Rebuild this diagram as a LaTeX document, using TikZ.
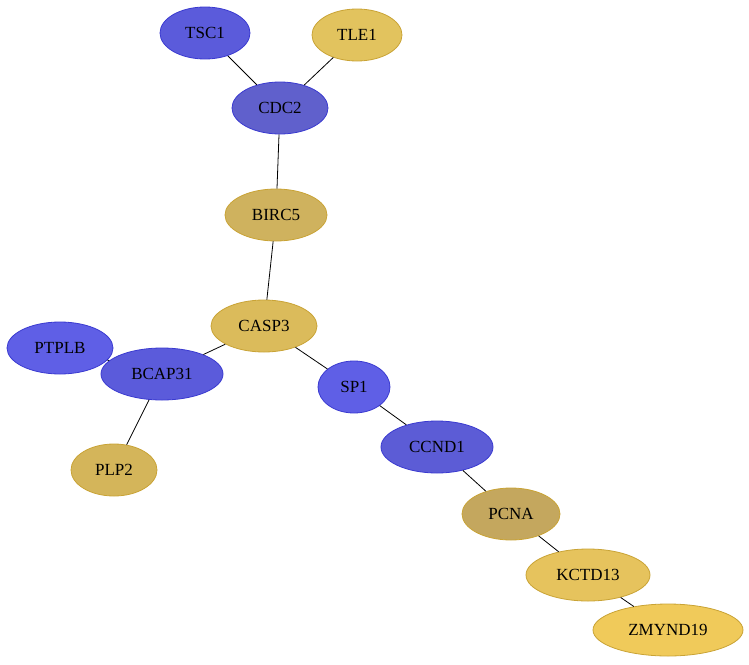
\documentclass[tikz,border=0pt]{standalone}
\usepackage{fontspec}
\setmainfont{Liberation Serif}
\usepackage{tikz}
\usetikzlibrary{shapes.geometric}

\definecolor{blueA}{HTML}{5B5BDB}
\definecolor{blueB}{HTML}{5F5FE6}
\definecolor{blueC}{HTML}{5C5CD6}
\definecolor{blueD}{HTML}{6060CC}
\definecolor{blueline}{HTML}{3A3AD0}
\definecolor{goldA}{HTML}{E2C35E}
\definecolor{goldB}{HTML}{CFB25E}
\definecolor{goldC}{HTML}{DBBB5B}
\definecolor{goldD}{HTML}{D4B55A}
\definecolor{goldE}{HTML}{C4A75E}
\definecolor{goldF}{HTML}{E6C35D}
\definecolor{goldG}{HTML}{F0CA5A}
\definecolor{goldline}{HTML}{C9A335}

\tikzset{
  gene/.style={ellipse, draw, line width=0.8pt, inner sep=0pt, minimum height=52pt,
    font=\fontsize{17}{19}\selectfont},
  bluegene/.style={gene, draw=blueline},
  goldgene/.style={gene, draw=goldline},
  link/.style={draw=black, line width=0.8pt}
}

\begin{document}
\begin{tikzpicture}[x=1pt,y=-1pt]
\useasboundingbox (0,0) rectangle (749,664);

\node (TSC1) [bluegene, fill=blueA, minimum width=90pt] at (205,33) {TSC1};
\node (TLE1) [goldgene, fill=goldA, minimum width=90pt] at (357,35) {TLE1};
\node (CDC2) [bluegene, fill=blueD, minimum width=96pt] at (280,108) {CDC2};
\node (BIRC5) [goldgene, fill=goldB, minimum width=102pt] at (276,215) {BIRC5};
\node (CASP3) [goldgene, fill=goldC, minimum width=106pt] at (264,326) {CASP3};
\node (PTPLB) [bluegene, fill=blueB, minimum width=106pt] at (60,348) {PTPLB};
\node (BCAP31) [bluegene, fill=blueA, minimum width=122pt] at (162,374) {BCAP31};
\node (PLP2) [goldgene, fill=goldD, minimum width=86pt] at (114,470) {PLP2};
\node (SP1) [bluegene, fill=blueB, minimum width=72pt] at (354,387) {SP1};
\node (CCND1) [bluegene, fill=blueC, minimum width=112pt] at (437,447) {CCND1};
\node (PCNA) [goldgene, fill=goldE, minimum width=98pt] at (511,514) {PCNA};
\node (KCTD13) [goldgene, fill=goldF, minimum width=124pt] at (588,575) {KCTD13};
\node (ZMYND19) [goldgene, fill=goldG, minimum width=150pt] at (668,630) {ZMYND19};

\draw[link] (TSC1) -- (CDC2);
\draw[link] (TLE1) -- (CDC2);
\draw[link] (CDC2) -- (BIRC5);
\draw[link] (BIRC5) -- (CASP3);
\draw[link] (CASP3) -- (BCAP31);
\draw[link] (PTPLB) -- (BCAP31);
\draw[link] (BCAP31) -- (PLP2);
\draw[link] (CASP3) -- (SP1);
\draw[link] (SP1) -- (CCND1);
\draw[link] (CCND1) -- (PCNA);
\draw[link] (PCNA) -- (KCTD13);
\draw[link] (KCTD13) -- (ZMYND19);

\end{tikzpicture}
\end{document}
